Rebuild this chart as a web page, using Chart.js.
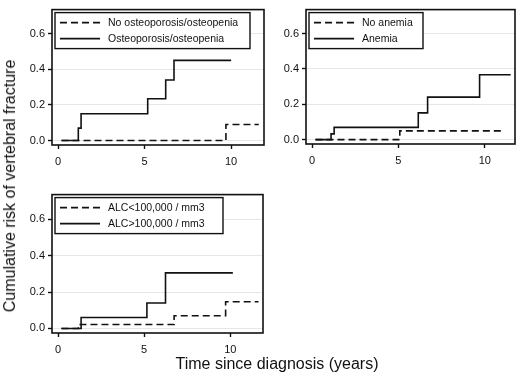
<!DOCTYPE html>
<html>
<head>
<meta charset="utf-8">
<script src="https://cdn.jsdelivr.net/npm/chart.js@4.4.1/dist/chart.umd.min.js"></script>
<style>
    html, body { margin: 0; padding: 0; background: #fff; }
    #page { position: relative; width: 520px; height: 376px; overflow: hidden; font-family: "Liberation Sans", Arial, sans-serif; color: #111; }
    .panel { position: absolute; }
    .y-title { position: absolute; left: 10px; top: 186px; transform: translate(-50%, -50%) rotate(-90deg); font-size: 16px; white-space: nowrap; }
    .x-title { position: absolute; left: 277px; top: 364px; transform: translate(-50%, -50%); font-size: 16px; white-space: nowrap; }
</style>
</head>
<body>
<div id="page">
    <canvas id="chart-osteo" class="panel"></canvas>
    <canvas id="chart-anemia" class="panel"></canvas>
    <canvas id="chart-alc" class="panel"></canvas>
    <div class="y-title">Cumulative risk of vertebral fracture</div>
    <div class="x-title">Time since diagnosis (years)</div>
</div>
<script>
// tick labels
const xTicks = [0, 5, 10];
const yTicks = [0, 0.2, 0.4, 0.6];

// osteoporosis panel
const osteoLabels = ['No osteoporosis/osteopenia', 'Osteoporosis/osteopenia'];
const osteoNoTime = [0.2, 9.7, 11.6];
const osteoNoRisk = [0, 0.09, 0.09];
const osteoYesTime = [0.2, 1.17, 1.33, 5.18, 6.22, 6.7, 10.0];
const osteoYesRisk = [0, 0.07, 0.15, 0.235, 0.34, 0.45, 0.45];

// anemia panel
const anemiaLabels = ['No anemia', 'Anemia'];
const anemiaNoTime = [0.2, 5.08, 11.1];
const anemiaNoRisk = [0, 0.049, 0.049];
const anemiaYesTime = [0.2, 1.1, 1.28, 6.15, 6.69, 9.7, 11.5];
const anemiaYesRisk = [0, 0.032, 0.069, 0.151, 0.24, 0.367, 0.367];

// ALC panel
const alcLabels = ['ALC<100,000 / mm3', 'ALC>100,000 / mm3'];
const alcLowTime = [0.2, 1.18, 6.74, 9.73, 11.64];
const alcLowRisk = [0, 0.022, 0.07, 0.147, 0.147];
const alcHighTime = [0.2, 1.34, 5.16, 6.24, 10.15];
const alcHighRisk = [0, 0.06, 0.14, 0.305, 0.305];

const FONT = '"Liberation Sans", Arial, sans-serif';
const INK = '#111';

const toPoints = (times, risks) => times.map((t, i) => ({ x: t, y: risks[i] }));

// draws the box round the plot and the legend inside it
const framePlugin = {
    id: 'frame',
    afterDraw(chart, args, opts) {
        const { ctx, chartArea: a } = chart;
        ctx.save();
        ctx.strokeStyle = INK;
        ctx.lineWidth = 1.6;
        ctx.strokeRect(a.left, a.top, a.right - a.left, a.bottom - a.top);

        const bx = a.left + 3;
        const by = a.top + 3;
        ctx.fillStyle = '#fff';
        ctx.fillRect(bx, by, opts.width, 36);
        ctx.lineWidth = 1.4;
        ctx.strokeRect(bx, by, opts.width, 36);

        chart.data.datasets.forEach((ds, i) => {
            const ly = by + 10 + i * 16;
            ctx.setLineDash(ds.borderDash || []);
            ctx.lineWidth = ds.borderWidth;
            ctx.strokeStyle = ds.borderColor;
            ctx.beginPath();
            ctx.moveTo(bx + 5, ly);
            ctx.lineTo(bx + 45, ly);
            ctx.stroke();
            ctx.setLineDash([]);
            ctx.fillStyle = INK;
            ctx.font = '10.5px ' + FONT;
            ctx.textBaseline = 'middle';
            ctx.fillText(ds.label, bx + 53, ly + 0.5);
        });
        ctx.restore();
    }
};

function buildPanel(id, box, labels, dashed, solid, xMax, legendWidth) {
    const canvas = document.getElementById(id);
    canvas.width = box.width;
    canvas.height = box.height;
    canvas.style.left = box.left + 'px';
    canvas.style.top = box.top + 'px';

    const tickFont = { family: FONT, size: 11 };

    return new Chart(canvas, {
        type: 'line',
        data: {
            datasets: [
                {
                    label: labels[0],
                    data: dashed,
                    stepped: true,
                    borderColor: INK,
                    borderWidth: 1.6,
                    borderDash: [7, 4],
                    pointRadius: 0,
                    fill: false
                },
                {
                    label: labels[1],
                    data: solid,
                    stepped: true,
                    borderColor: INK,
                    borderWidth: 1.6,
                    pointRadius: 0,
                    fill: false
                }
            ]
        },
        options: {
            responsive: false,
            animation: false,
            layout: { padding: { top: 3, right: 2, left: 0, bottom: 0 } },
            scales: {
                x: {
                    type: 'linear',
                    min: -0.35,
                    max: xMax,
                    afterBuildTicks: s => { s.ticks = xTicks.map(v => ({ value: v })); },
                    afterFit: s => { s.height = 25; },
                    grid: { drawOnChartArea: false, tickLength: 4, tickColor: INK, tickWidth: 1.4 },
                    border: { display: false },
                    ticks: { color: INK, font: tickFont, padding: 6, maxRotation: 0, callback: v => String(v) }
                },
                y: {
                    type: 'linear',
                    min: -0.025,
                    max: 0.735,
                    afterBuildTicks: s => { s.ticks = yTicks.map(v => ({ value: v })); },
                    afterFit: s => { s.width = 52; },
                    grid: { color: '#e6e6e6', lineWidth: 1, tickLength: 4, tickColor: INK, tickWidth: 1.4 },
                    border: { display: false },
                    ticks: { color: INK, font: tickFont, padding: 3, callback: v => v.toFixed(1) }
                }
            },
            plugins: {
                legend: { display: false },
                tooltip: { enabled: false },
                frame: { width: legendWidth }
            }
        },
        plugins: [framePlugin]
    });
}

buildPanel('chart-osteo', { left: 0, top: 0, width: 266, height: 170 }, osteoLabels,
    toPoints(osteoNoTime, osteoNoRisk), toPoints(osteoYesTime, osteoYesRisk), 11.9, 195);

buildPanel('chart-anemia', { left: 254, top: 0, width: 263, height: 169 }, anemiaLabels,
    toPoints(anemiaNoTime, anemiaNoRisk), toPoints(anemiaYesTime, anemiaYesRisk), 11.75, 114);

buildPanel('chart-alc', { left: 0, top: 185, width: 265, height: 173 }, alcLabels,
    toPoints(alcLowTime, alcLowRisk), toPoints(alcHighTime, alcHighRisk), 11.9, 168);
</script>
</body>
</html>
